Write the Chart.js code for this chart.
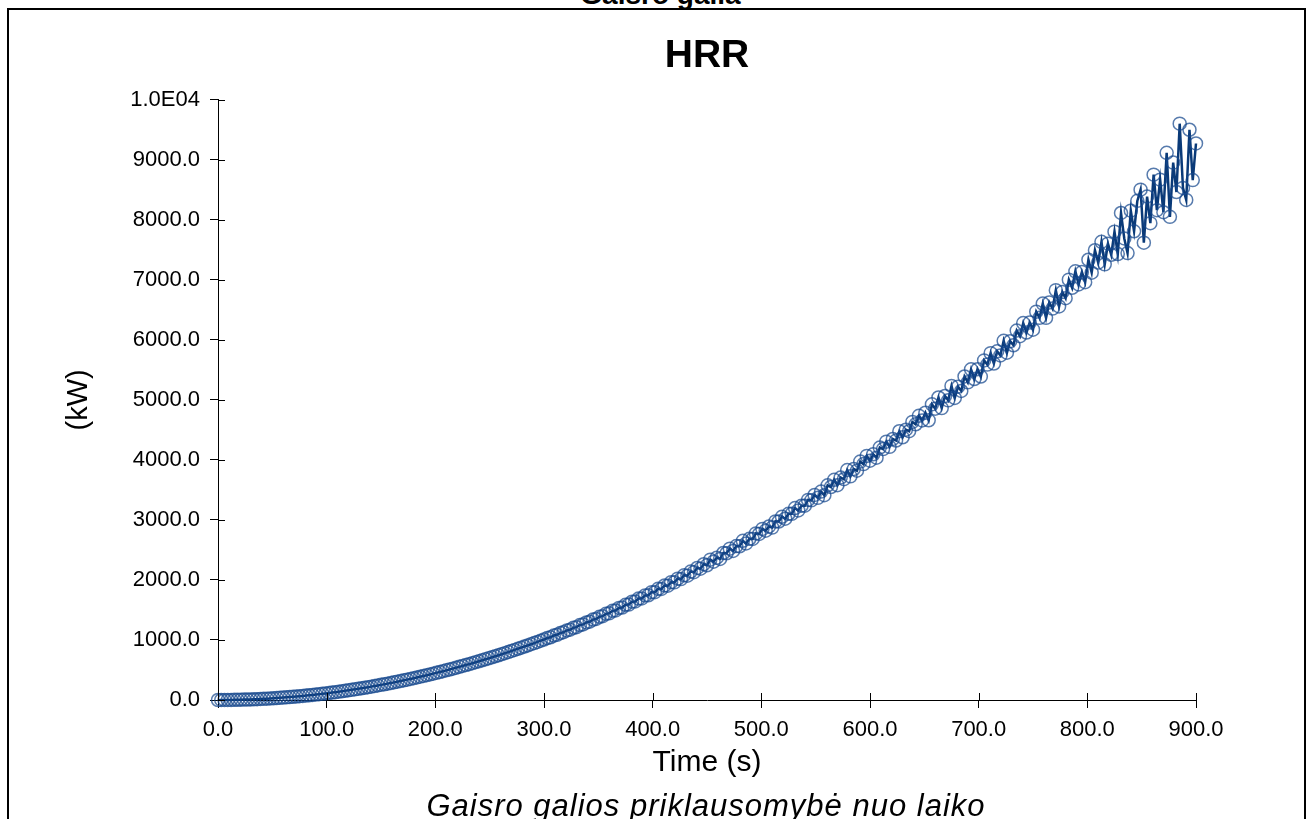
<!DOCTYPE html>
<html>
<head>
<meta charset="utf-8">
<script src="https://cdn.jsdelivr.net/npm/chart.js@4.4.1/dist/chart.umd.min.js"></script>
<style>
  html, body { margin: 0; padding: 0; width: 1313px; height: 819px; overflow: hidden; background: #fff; }
  #frame { position: absolute; left: 7px; top: 8px; width: 1299px; height: 900px; border: 2px solid #000; box-sizing: border-box; }
  #top-label { position: absolute; left: 0; width: 1313px; top: -20px; text-align: center; font: bold 28px "Liberation Sans", Arial, sans-serif; line-height: 30px; padding-left: 8px; box-sizing: border-box; }
  #caption { position: absolute; left: 100px; width: 1212px; top: 788px; text-align: center; font: italic 31px "Liberation Sans", Arial, sans-serif; letter-spacing: 1px; line-height: 36px; }
  #hrr-canvas { position: absolute; left: 0; top: 0; }
</style>
</head>
<body>
<div id="top-label">Gaisro galia</div>
<div id="frame"></div>
<canvas id="hrr-canvas" width="1313" height="819"></canvas>
<div id="caption">Gaisro galios priklausomybė nuo laiko</div>
<script>
// time (s)
const times = [
  0, 3, 6, 9, 12, 15, 18, 21, 24, 27, 30, 33, 36, 39, 42, 45, 48, 51, 54, 57,
  60, 63, 66, 69, 72, 75, 78, 81, 84, 87, 90, 93, 96, 99, 102, 105, 108, 111, 114, 117,
  120, 123, 126, 129, 132, 135, 138, 141, 144, 147, 150, 153, 156, 159, 162, 165, 168, 171, 174, 177,
  180, 183, 186, 189, 192, 195, 198, 201, 204, 207, 210, 213, 216, 219, 222, 225, 228, 231, 234, 237,
  240, 243, 246, 249, 252, 255, 258, 261, 264, 267, 270, 273, 276, 279, 282, 285, 288, 291, 294, 297,
  300, 303, 306, 309, 312, 315, 318, 321, 324, 327, 330, 333, 336, 339, 342, 345, 348, 351, 354, 357,
  360, 363, 366, 369, 372, 375, 378, 381, 384, 387, 390, 393, 396, 399, 402, 405, 408, 411, 414, 417,
  420, 423, 426, 429, 432, 435, 438, 441, 444, 447, 450, 453, 456, 459, 462, 465, 468, 471, 474, 477,
  480, 483, 486, 489, 492, 495, 498, 501, 504, 507, 510, 513, 516, 519, 522, 525, 528, 531, 534, 537,
  540, 543, 546, 549, 552, 555, 558, 561, 564, 567, 570, 573, 576, 579, 582, 585, 588, 591, 594, 597,
  600, 603, 606, 609, 612, 615, 618, 621, 624, 627, 630, 633, 636, 639, 642, 645, 648, 651, 654, 657,
  660, 663, 666, 669, 672, 675, 678, 681, 684, 687, 690, 693, 696, 699, 702, 705, 708, 711, 714, 717,
  720, 723, 726, 729, 732, 735, 738, 741, 744, 747, 750, 753, 756, 759, 762, 765, 768, 771, 774, 777,
  780, 783, 786, 789, 792, 795, 798, 801, 804, 807, 810, 813, 816, 819, 822, 825, 828, 831, 834, 837,
  840, 843, 846, 849, 852, 855, 858, 861, 864, 867, 870, 873, 876, 879, 882, 885, 888, 891, 894, 897,
  900
];

// heat release rate (kW)
const hrr = [
  0, 0.1, 0.4, 0.9, 1.6, 2.5, 3.6, 4.9, 6.5, 8.2, 10.1, 12.2, 14.5, 17.0, 19.8, 22.7, 25.8, 29.1, 32.7, 36.4,
  40.3, 44.5, 48.8, 53.3, 58.1, 63.0, 68.1, 73.5, 79.0, 84.8, 90.7, 96.9, 103.2, 109.8, 116.5, 123.5, 130.6, 138.0, 145.6, 153.3,
  161.3, 169.4, 177.8, 186.4, 195.2, 204.1, 213.3, 222.7, 232.2, 242.0, 252.0, 262.2, 272.6, 283.1, 293.9, 304.9, 316.1, 327.5, 339.1, 350.9,
  362.9, 375.1, 387.5, 400.1, 412.9, 425.9, 439.1, 452.5, 466.1, 479.9, 493.9, 508.1, 522.5, 537.2, 552.0, 567.0, 582.2, 597.6, 613.3, 629.1,
  645.1, 661.3, 677.8, 694.4, 711.2, 728.3, 745.5, 763.0, 780.6, 798.4, 816.5, 834.7, 853.2, 871.8, 890.7, 909.7, 929.0, 948.4, 968.1, 988.0,
  1008, 1032, 1045, 1074, 1086, 1116, 1129, 1160, 1171, 1203, 1214, 1249, 1259, 1293, 1304, 1340, 1350, 1387, 1397, 1435,
  1444, 1485, 1492, 1534, 1541, 1586, 1590, 1637, 1642, 1690, 1692, 1743, 1745, 1797, 1797, 1852, 1850, 1908, 1904, 1963,
  1960, 2022, 2015, 2080, 2072, 2140, 2130, 2200, 2188, 2262, 2245, 2338, 2305, 2372, 2351, 2450, 2445, 2521, 2484, 2564,
  2561, 2653, 2609, 2686, 2683, 2776, 2766, 2851, 2821, 2891, 2873, 2976, 2974, 3053, 3020, 3103, 3102, 3198, 3158, 3238,
  3238, 3334, 3327, 3416, 3368, 3472, 3412, 3577, 3548, 3669, 3579, 3707, 3678, 3830, 3726, 3848, 3820, 3972, 3930, 4067,
  3987, 4094, 4038, 4206, 4180, 4304, 4218, 4349, 4323, 4478, 4377, 4503, 4478, 4633, 4594, 4735, 4658, 4786, 4660, 4926,
  4853, 5040, 4864, 5065, 4993, 5233, 5032, 5220, 5149, 5390, 5293, 5509, 5348, 5511, 5389, 5658, 5588, 5779, 5606, 5810,
  5741, 5985, 5786, 5978, 5910, 6155, 6061, 6280, 6122, 6289, 6170, 6470, 6367, 6605, 6367, 6623, 6521, 6828, 6557, 6796,
  6695, 7003, 6868, 7142, 6923, 7130, 6962, 7336, 7120, 7494, 7288, 7633, 7258, 7603, 7418, 7803, 7429, 8114, 7690, 7446,
  8153, 7809, 8316, 8503, 7620, 8388, 7945, 8753, 8161, 8669, 8127, 9116, 8050, 8954, 8463, 9602, 8532, 8332, 9501, 8662,
  9272
];

const xTicksMax = 900;
const yTicksMax = 10000;

// inner half of the tick marks (they cross the axis line)
const crossTicks = {
  id: 'crossTicks',
  afterDraw(chart) {
    const { ctx, scales: { x, y } } = chart;
    ctx.save();
    ctx.strokeStyle = '#000';
    ctx.lineWidth = 1;
    ctx.beginPath();
    y.ticks.forEach((t) => {
      const py = Math.round(y.getPixelForValue(t.value)) + 0.5;
      ctx.moveTo(x.left, py);
      ctx.lineTo(x.left + 7, py);
    });
    x.ticks.forEach((t) => {
      const px = Math.round(x.getPixelForValue(t.value)) + 0.5;
      ctx.moveTo(px, y.bottom);
      ctx.lineTo(px, y.bottom - 7);
    });
    ctx.stroke();
    ctx.restore();
  },
};

const font = '"Liberation Sans", Arial, sans-serif';

new Chart(document.getElementById('hrr-canvas'), {
  type: 'line',
  data: {
    datasets: [{
      label: 'HRR',
      data: times.map((t, i) => ({ x: t, y: hrr[i] })),
      borderColor: '#0a3a78',
      borderWidth: 2.5,
      tension: 0,
      clip: false,
      pointRadius: 6.5,
      pointBorderWidth: 1.5,
      pointBorderColor: 'rgba(22, 72, 142, 0.72)',
      pointBackgroundColor: 'rgba(0, 0, 0, 0)',
    }],
  },
  options: {
    responsive: false,
    animation: false,
    layout: { padding: { left: 0, right: 117, top: 0, bottom: 0 } },
    plugins: {
      legend: { display: false },
      tooltip: { enabled: false },
      title: {
        display: true,
        text: 'HRR',
        fullSize: false,
        color: '#000',
        font: { family: font, size: 39, weight: 'bold' },
        padding: { top: 33, bottom: 20 },
      },
    },
    scales: {
      x: {
        type: 'linear',
        min: 0,
        max: xTicksMax,
        afterFit(scale) { scale.height = 119; },
        border: { display: true, color: '#000', width: 1 },
        grid: { display: true, drawOnChartArea: false, color: '#000', tickLength: 8 },
        ticks: {
          stepSize: 100,
          padding: 9,
          color: '#000',
          maxRotation: 0,
          font: { family: font, size: 22 },
          callback: (v) => v.toFixed(1),
        },
        title: {
          display: true,
          text: 'Time (s)',
          color: '#000',
          font: { family: font, size: 30 },
          padding: { top: 38, bottom: 38 },
        },
      },
      y: {
        min: 0,
        max: yTicksMax,
        afterFit(scale) { scale.width = 218; },
        border: { display: true, color: '#000', width: 1 },
        grid: { display: true, drawOnChartArea: false, color: '#000', tickLength: 8 },
        ticks: {
          stepSize: 1000,
          padding: 10,
          color: '#000',
          font: { family: font, size: 22 },
          callback: (v) => (v === 10000 ? '1.0E04' : v.toFixed(1)),
        },
        title: {
          display: true,
          text: '(kW)',
          color: '#000',
          font: { family: font, size: 29 },
          padding: { top: 62, bottom: 62 },
        },
      },
    },
  },
  plugins: [crossTicks],
});
</script>
</body>
</html>
